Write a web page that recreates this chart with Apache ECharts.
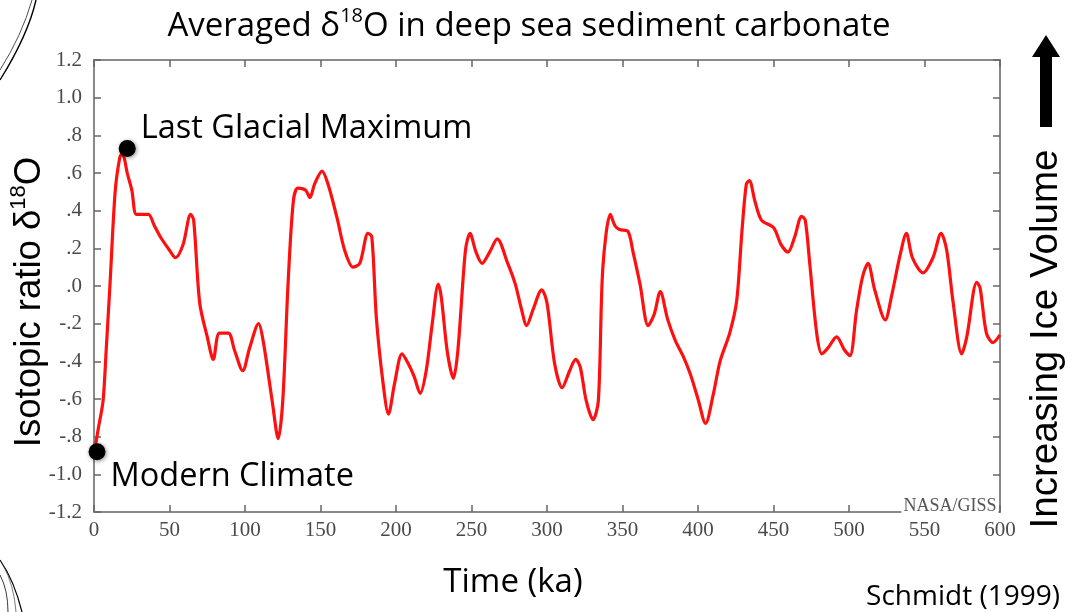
<!DOCTYPE html>
<html>
<head>
<meta charset="utf-8">
<script src="https://cdn.jsdelivr.net/npm/echarts@6/dist/echarts.min.js"></script>
<style>
html,body{margin:0;padding:0;background:#fff;}
#chart{width:1080px;height:612px;}
</style>
</head>
<body>
<div id="chart"></div>
<script>
// ---- data (ka, delta18O anomaly) ----
var ages = [0.7,3,6,8,10.6,14,17,18.5,20,22,25,28,32,36,40,44,50,54,59,64,66,70,75,79,83,89,93,98.5,103,109,112,118,122,125,128.5,132,135,140,143,146,151,155,161,166,171.5,176,181.5,184,187,191.5,195,199,204,208,212,216,220,224,228,230,234,238,241,246,249,253,257,262,267,274,279,283,286.5,291,296.5,300,305,310,315,319,322,326,330.5,334,337,342,345,348,353.6,357,361.6,367,371,375,380,385,390,395,400,405,410,414.6,421,425.6,429,432,434,437.7,442,450,455,459.6,464,468.6,471,474,478.6,482,486,491.8,497,500.6,505,509,512.6,517,524,528,534,538,542,549,555.6,561,564.7,569,574.6,578,584.6,586.8,591,595.4,600];
var d18O = [-0.86,-0.75,-0.61,-0.35,0.01,0.5,0.68,0.70,0.68,0.60,0.51,0.38,0.38,0.38,0.32,0.26,0.19,0.15,0.22,0.38,0.35,-0.09,-0.27,-0.39,-0.25,-0.25,-0.34,-0.45,-0.33,-0.20,-0.29,-0.61,-0.81,-0.61,0.01,0.45,0.52,0.51,0.47,0.54,0.61,0.54,0.36,0.19,0.10,0.12,0.28,0.26,-0.17,-0.52,-0.68,-0.52,-0.36,-0.41,-0.48,-0.57,-0.45,-0.20,0.01,-0.06,-0.35,-0.49,-0.34,0.19,0.28,0.18,0.12,0.18,0.25,0.12,0.01,-0.12,-0.21,-0.12,-0.02,-0.09,-0.41,-0.54,-0.45,-0.39,-0.43,-0.61,-0.71,-0.61,0.10,0.38,0.32,0.30,0.29,0.18,0.01,-0.21,-0.15,-0.03,-0.18,-0.29,-0.37,-0.47,-0.60,-0.73,-0.58,-0.40,-0.25,-0.08,0.28,0.54,0.56,0.45,0.35,0.31,0.22,0.18,0.26,0.37,0.35,0.12,-0.25,-0.36,-0.33,-0.27,-0.34,-0.37,-0.13,0.05,0.12,-0.02,-0.18,-0.06,0.17,0.28,0.15,0.07,0.15,0.28,0.19,-0.09,-0.36,-0.27,0.02,-0.01,-0.25,-0.30,-0.26];
var annotNames = ['Last Glacial Maximum','Modern Climate'];
var annotAges = [22, 2];
var annotValues = [0.73, -0.88];
var xTickLabels = ['0','50','100','150','200','250','300','350','400','450','500','550','600'];
var yTickLabels = ['-1.2','-1.0','-.8','-.6','-.4','-.2','.0','.2','.4','.6','.8','1.0','1.2'];

var lineData = ages.map(function(a,i){return [a,d18O[i]];});
var annotData = annotNames.map(function(n,i){return {name:n,value:[annotAges[i],annotValues[i]]};});

var chart = echarts.init(document.getElementById('chart'), null, {renderer:'canvas'});
var axisCommon = {
  axisLine:{show:true,onZero:false,lineStyle:{color:'#8a8a8a',width:2}},
  axisTick:{show:true,inside:true,length:7,lineStyle:{color:'#666',width:1.5}},
  splitLine:{show:false}
};
var labelStyle = {fontFamily:'Liberation Serif',fontSize:21,color:'#4a4a4a'};
var option = {
  animation:false,
  backgroundColor:'#fff',
  grid:{left:94,right:80,top:60,bottom:100,containLabel:false},
  xAxis:[
    Object.assign({type:'value',position:'bottom',min:0,max:600,interval:50,
      axisLabel:Object.assign({margin:8,formatter:function(v){return xTickLabels[Math.round(v/50)];}},labelStyle)},axisCommon),
    Object.assign({type:'value',position:'top',min:0,max:600,interval:50,axisLabel:{show:false}},axisCommon)
  ],
  yAxis:[
    Object.assign({type:'value',position:'left',min:-1.2,max:1.2,interval:0.2,
      axisLabel:Object.assign({margin:12,formatter:function(v){return yTickLabels[Math.round((v+1.2)/0.2)];}},labelStyle)},axisCommon),
    Object.assign({type:'value',position:'right',min:-1.2,max:1.2,interval:0.2,axisLabel:{show:false}},axisCommon)
  ],
  series:[
    {type:'line',data:lineData,smooth:0.3,showSymbol:false,
     lineStyle:{color:'#ff1010',width:3.2},z:3},
    {type:'scatter',data:annotData,symbolSize:17,clip:false,z:5,
     itemStyle:{color:'#000',opacity:1,shadowBlur:4,shadowColor:'rgba(0,0,0,0.45)',shadowOffsetX:1,shadowOffsetY:1},
     label:{show:true,position:'right',distance:5,formatter:'{b}',
       fontFamily:'Open Sans',fontSize:32.5,color:'#000',opacity:1},
     labelLayout:function(p){
       return p.dataIndex===0 ? {dy:-20} : {dy:25};
     }}
  ],
  graphic:[
    {type:'text',x:529,y:27,z:100,style:{
      text:'{a|Averaged δ}{s|18}{a|O in deep sea sediment carbonate}',
      align:'center',verticalAlign:'middle',
      rich:{a:{fontFamily:'Open Sans',fontSize:33,color:'#000',lineHeight:42},
            s:{fontFamily:'Open Sans',fontSize:20,color:'#000',verticalAlign:'top',lineHeight:24}}}},
    {type:'text',x:30,y:302,rotation:Math.PI/2,z:100,style:{
      text:'{a|Isotopic ratio δ}{s|18}{a|O}',align:'center',verticalAlign:'middle',
      rich:{a:{fontFamily:'Liberation Sans',fontSize:36.5,color:'#000',lineHeight:44},
            s:{fontFamily:'Liberation Sans',fontSize:22,color:'#000',verticalAlign:'top',lineHeight:26}}}},
    {type:'text',x:1046,y:339,rotation:Math.PI/2,z:100,style:{
      text:'Increasing Ice Volume',align:'center',verticalAlign:'middle',
      fontFamily:'Liberation Sans',fontSize:38.5,fill:'#000'}},
    {type:'polygon',z:100,shape:{points:[[1040,127],[1040,57],[1032,57],[1046,35],[1060,57],[1052,57],[1052,127]]},
      style:{fill:'#000'}},
    {type:'text',x:513,y:583,z:100,style:{text:'Time (ka)',align:'center',verticalAlign:'middle',
      fontFamily:'Open Sans',fontSize:33,fill:'#000'}},
    {type:'text',x:963,y:597,z:100,style:{text:'Schmidt (1999)',align:'center',verticalAlign:'middle',
      fontFamily:'Open Sans',fontSize:28,fill:'#000'}},
    {type:'text',x:950,y:506,z:100,style:{text:'NASA/GISS',align:'center',verticalAlign:'middle',
      fontFamily:'Liberation Serif',fontSize:18,fill:'#555',backgroundColor:'#fff',padding:[1,2,1,2]}},
    // decorative sketch lines in the corners
    {type:'bezierCurve',z:100,shape:{x1:36,y1:0,cpx1:28,cpy1:35,x2:0,y2:80},style:{stroke:'#000',lineWidth:1.4,fill:null}},
    {type:'bezierCurve',z:100,shape:{x1:32,y1:0,cpx1:22,cpy1:35,x2:0,y2:70},style:{stroke:'#222',lineWidth:0.8,fill:null}},
    {type:'bezierCurve',z:100,shape:{x1:0,y1:560,cpx1:14,cpy1:580,x2:22,y2:612},style:{stroke:'#000',lineWidth:1.2,fill:null}},
    {type:'bezierCurve',z:100,shape:{x1:0,y1:575,cpx1:8,cpy1:590,x2:8,y2:612},style:{stroke:'#222',lineWidth:0.9,fill:null}},
    {type:'bezierCurve',z:100,shape:{x1:3,y1:565,cpx1:14,cpy1:585,x2:16,y2:612},style:{stroke:'#444',lineWidth:0.7,fill:null}}
  ]
};
chart.setOption(option);
</script>
</body>
</html>
